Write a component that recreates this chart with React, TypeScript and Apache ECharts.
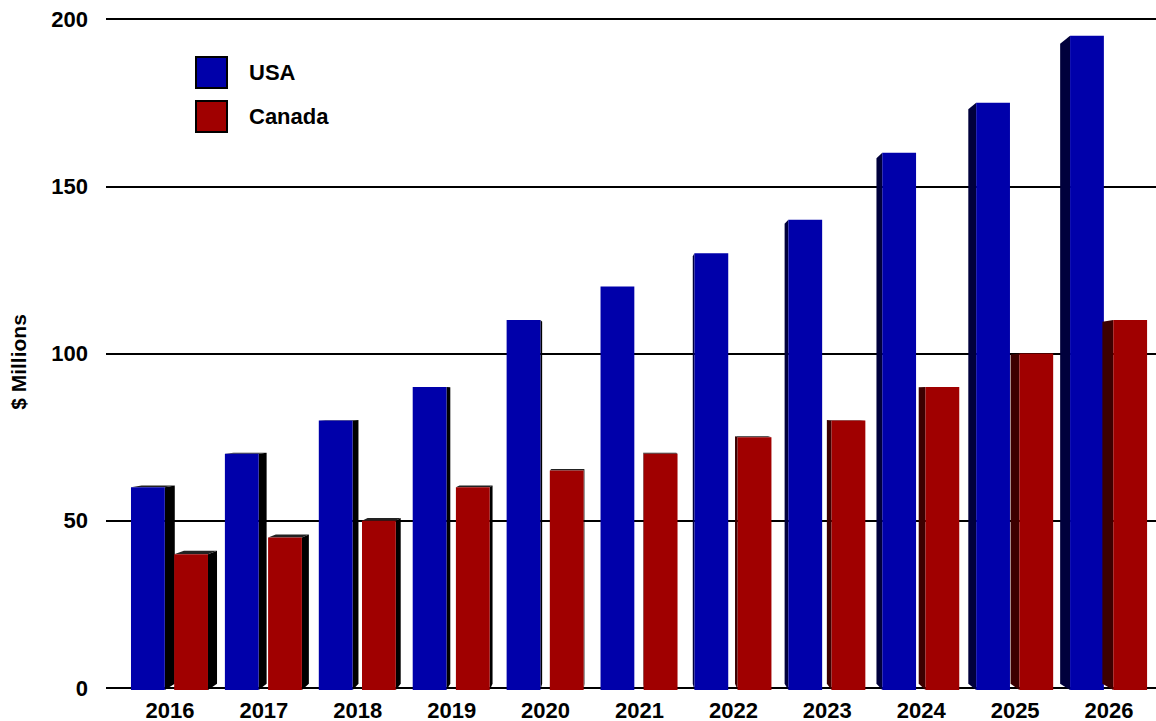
import React, { useEffect, useRef } from "react";
import * as echarts from "echarts";

const years = ["2016", "2017", "2018", "2019", "2020", "2021", "2022", "2023", "2024", "2025", "2026"];
const usa = [60, 70, 80, 90, 110, 120, 130, 140, 160, 175, 195];
const canada = [40, 45, 50, 60, 65, 70, 75, 80, 90, 100, 110];
const yTicks = [0, 50, 100, 150, 200];

const FONT = "'Liberation Sans', Arial, sans-serif";

function makeRender(offsetFrac: number, front: string, leftSide: string, rightSide: string) {
  return (params: any, api: any) => {
    const idx = api.value(0);
    const val = api.value(1);
    const cs = params.coordSys;
    const bw = api.size([1, 0])[0];
    const top = api.coord([idx, val]);
    const base = api.coord([idx, 0]);
    const w = bw * 0.36;
    const cx = top[0] + offsetFrac * bw;
    const L = cx - w / 2;
    const R = cx + w / 2;
    const ty = top[1];
    const by = base[1] + 2;
    const vpX = cs.x + cs.width * 0.48;
    const vpY = api.coord([0, 86])[1];
    const k = 0.022;
    const bx = (x: number) => x + (vpX - x) * k;
    const byy = (y: number) => y + (vpY - y) * k;
    const children: any[] = [];
    if (R < vpX) {
      children.push({
        type: "polygon",
        shape: { points: [[R, ty], [bx(R), byy(ty)], [bx(R), byy(by)], [R, by]] },
        style: { fill: rightSide },
      });
    }
    if (L > vpX) {
      children.push({
        type: "polygon",
        shape: { points: [[L, ty], [bx(L), byy(ty)], [bx(L), byy(by)], [L, by]] },
        style: { fill: leftSide },
      });
    }
    if (ty > vpY) {
      children.push({
        type: "polygon",
        shape: { points: [[L, ty], [R, ty], [bx(R), byy(ty)], [bx(L), byy(ty)]] },
        style: { fill: "#222222" },
      });
    }
    children.push({
      type: "rect",
      shape: { x: L, y: ty, width: w, height: by - ty },
      style: { fill: front },
    });
    return { type: "group", children };
  };
}

export default function App() {
  const ref = useRef<HTMLDivElement>(null);
  useEffect(() => {
    const chart = echarts.init(ref.current!, null, { renderer: "svg" });
    const usaData = usa.map((v, i) => [i, v]);
    const canData = canada.map((v, i) => [i, v]);
    chart.setOption({
      animation: false,
      backgroundColor: "#ffffff",
      textStyle: { fontFamily: FONT },
      grid: [
        { left: 106, right: 0, top: 19, bottom: 33 },
        { left: 123, right: -1, top: 19, bottom: 33 },
      ],
      legend: {
        orient: "vertical",
        left: 195,
        top: 56,
        padding: 0,
        itemWidth: 31,
        itemHeight: 31,
        itemGap: 11,
        textStyle: { fontSize: 22, fontWeight: "bold", color: "#000", fontFamily: FONT, padding: [0, 0, 0, 17] },
        data: [
          { name: "USA", icon: "rect", itemStyle: { color: "#0000AA", borderColor: "#000", borderWidth: 2 } },
          { name: "Canada", icon: "rect", itemStyle: { color: "#A00000", borderColor: "#000", borderWidth: 2 } },
        ],
      },
      xAxis: [
        { type: "value", gridIndex: 0, show: false, min: 0, max: 1 },
        {
          type: "category",
          gridIndex: 1,
          data: years,
          axisLine: { show: false },
          axisTick: { show: false },
          axisLabel: { fontSize: 22, fontWeight: "bold", color: "#000", margin: 11, fontFamily: FONT },
        },
      ],
      yAxis: [
        {
          type: "value",
          gridIndex: 0,
          min: yTicks[0],
          max: yTicks[yTicks.length - 1],
          interval: 50,
          axisLine: { show: false },
          axisTick: { show: false },
          splitLine: { lineStyle: { color: "#000", width: 2 } },
          axisLabel: { fontSize: 22, fontWeight: "bold", color: "#000", margin: 18, fontFamily: FONT },
          name: "$ Millions",
          nameLocation: "middle",
          nameGap: 77,
          nameTextStyle: { fontSize: 21, fontWeight: "bold", color: "#000", fontFamily: FONT, padding: [0, 0, 0, -17] },
        },
        { type: "value", gridIndex: 1, min: 0, max: 200, show: false },
      ],
      series: [
        {
          name: "USA",
          type: "custom",
          xAxisIndex: 1,
          yAxisIndex: 1,
          data: usaData,
          itemStyle: { color: "#0000AA", borderColor: "#000", borderWidth: 2 },
          renderItem: makeRender(-0.235, "#0000AA", "#00003C", "#000000"),
        },
        {
          name: "Canada",
          type: "custom",
          xAxisIndex: 1,
          yAxisIndex: 1,
          data: canData,
          itemStyle: { color: "#A00000", borderColor: "#000", borderWidth: 2 },
          renderItem: makeRender(0.225, "#A00000", "#3C0000", "#000000"),
        },
      ],
    });
    return () => chart.dispose();
  }, []);
  return <div ref={ref} style={{ position: "fixed", left: 0, top: 0, width: 1156, height: 721 }} />;
}
